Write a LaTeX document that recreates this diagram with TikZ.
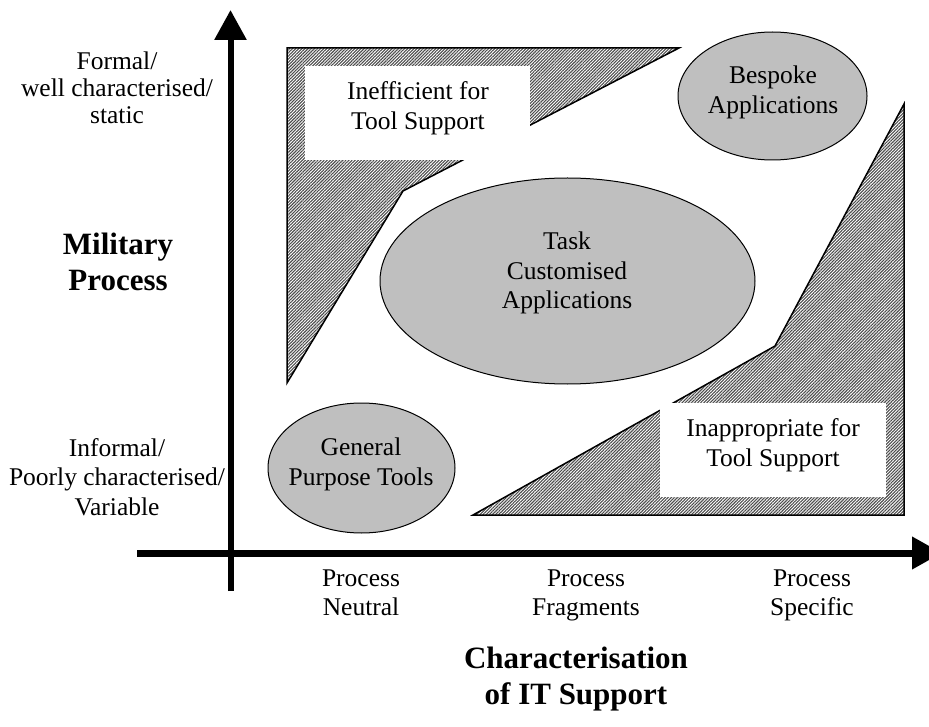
\documentclass[tikz,border=0pt]{standalone}
\usepackage{fontspec}
\setmainfont{Liberation Serif}
\usetikzlibrary{shapes.geometric,patterns.meta,arrows.meta}
\begin{document}
\begin{tikzpicture}[x=1pt,y=-1pt,
  hatch/.style={draw=black, line width=1.5pt, line join=miter,
    pattern={Lines[angle=45,distance=2.2pt,line width=1.1pt]}, pattern color=black!70},
  whitebox/.style={rectangle, fill=white, draw=none, inner sep=0pt},
  blob/.style={ellipse, draw=black, line width=1pt, fill=black!25, inner sep=0pt},
  lbl/.style={align=center, inner sep=0pt, font=\fontsize{25.5}{29.5}\selectfont},
  title/.style={align=center, inner sep=0pt, font=\fontsize{31}{36}\selectfont\bfseries},
  axis/.style={line width=6pt, -{Triangle[length=30pt,width=31pt]}}]
\useasboundingbox (0,0) rectangle (929,727);
\clip (0,0) rectangle (929,727);

% hatched regions
\coordinate (a1) at (287,48);
\coordinate (a2) at (679,48);
\coordinate (a3) at (403,191);
\coordinate (a4) at (287,383);
\draw[hatch] (a1) -- (a2) -- (a3) -- (a4) -- cycle;

\coordinate (b1) at (473,515);
\coordinate (b2) at (904,515);
\coordinate (b3) at (904,104);
\coordinate (b4) at (775,346);
\draw[hatch] (b1) -- (b2) -- (b3) -- (b4) -- cycle;

% white boxes
\node[whitebox, minimum width=225pt, minimum height=94pt] (ineffbox) at (417.5,113) {};
\node[lbl] (ineff) at (418,108.6) {\strut Inefficient for\\Tool Support\strut};
\node[whitebox, minimum width=226pt, minimum height=94pt] (inappbox) at (773,450) {};
\node[lbl] (inapp) at (773,445.6) {\strut Inappropriate for\\Tool Support\strut};

% ellipses
\node[blob, minimum width=375pt, minimum height=206pt] (task) at (567.5,281) {};
\node[lbl] (tasktxt) at (567,273.6) {\strut Task\\Customised\\Applications\strut};
\node[blob, minimum width=189pt, minimum height=128pt] (besp) at (772.5,96) {};
\node[lbl] (besptxt) at (773,92.6) {\strut Bespoke\\Applications\strut};
\node[blob, minimum width=187pt, minimum height=130pt] (gen) at (361.5,468) {};
\node[lbl] (gentxt) at (361,464.6) {\strut General\\Purpose Tools\strut};

% axes
\coordinate (vb) at (230.5,591);
\coordinate (vt) at (230.5,10);
\coordinate (hl) at (137,553);
\coordinate (hr) at (942,553);
\draw[axis] (vb) -- (vt);
\draw[axis, line width=7pt] (hl) -- (hr);

% axis labels
\node[lbl, font=\fontsize{25.5}{27}\selectfont] (formal) at (117,91) {\strut Formal/\\well characterised/\\static\strut};
\node[lbl] (informal) at (117,480) {\strut Informal/\\Poorly characterised/\\Variable\strut};
\node[title] (mil) at (118,265) {\strut Military\\Process\strut};
\node[lbl] (pn) at (361,595) {\strut Process\\Neutral\strut};
\node[lbl] (pf) at (586,595) {\strut Process\\Fragments\strut};
\node[lbl] (ps) at (812,595) {\strut Process\\Specific\strut};
\node[title] (char) at (576,679) {\strut Characterisation\\of IT Support\strut};
\end{tikzpicture}
\end{document}
